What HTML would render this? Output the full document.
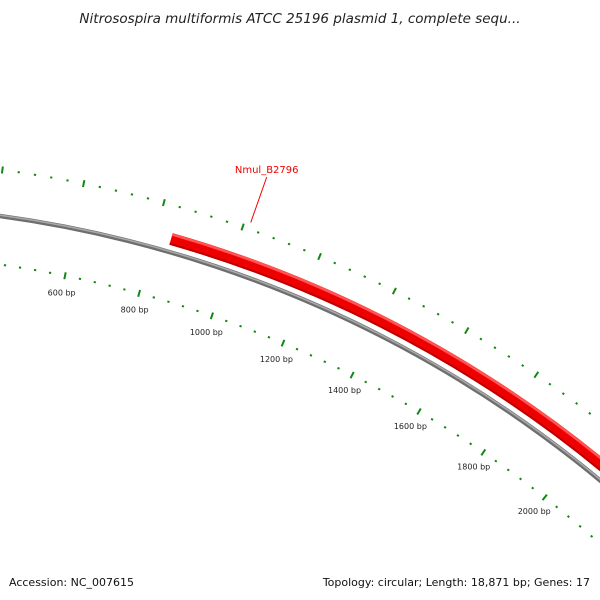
<!DOCTYPE html>
<html><head><meta charset="utf-8"><style>
html,body{margin:0;padding:0;background:#fff;width:600px;height:600px;overflow:hidden}
svg{display:block;overflow:hidden;font-family:"DejaVu Sans","Liberation Sans",sans-serif}
</style></head><body>
<svg id="map" width="600" height="600" viewBox="0 0 600 600">
<defs><clipPath id="clip"><rect x="0" y="0" width="600" height="600"/></clipPath></defs>
<text x="300" y="23" text-anchor="middle" font-size="13.5" font-style="italic" fill="#222">Nitrosospira multiformis ATCC 25196 plasmid 1, complete sequ...</text>
<g id="plot" clip-path="url(#clip)"></g>
<text x="9" y="586" font-size="11" fill="#111">Accession: NC_007615</text>
<text x="590" y="586" font-size="11" fill="#111" text-anchor="end">Topology: circular; Length: 18,871 bp; Genes: 17</text>
</svg>
<script>
const seqLength = 18871;
const tickStep = 40;
const majorStep = 200;
const featureNames = ["Nmul_B2796"];
const featureStarts = [841];
const featureEnds = [2700];
const featureLabelAt = [1015];
const labelledTicks = [600, 800, 1000, 1200, 1400, 1600, 1800, 2000];

const NS = "http://www.w3.org/2000/svg";
const cx = -162, cy = 1397;
const R_BACK = 1192, R_FEAT = 1205, R_OUT = 1238, R_IN = 1144, R_LAB = 1127;
const plot = document.getElementById('plot');
function ang(bp){ return bp / seqLength * 2 * Math.PI; }
function pt(bp, r){ const a = ang(bp); return [cx + r*Math.sin(a), cy - r*Math.cos(a)]; }
function mk(tag, attrs){ const e = document.createElementNS(NS, tag); for (const k in attrs) e.setAttribute(k, attrs[k]); plot.appendChild(e); return e; }
function arcPath(b0, b1, r){ const p0 = pt(b0, r), p1 = pt(b1, r); const large = (b1-b0)/seqLength > 0.5 ? 1 : 0; return `M${p0[0]},${p0[1]} A${r},${r} 0 ${large} 1 ${p1[0]},${p1[1]}`; }

let c = mk('path', {d: arcPath(0, 4000, R_BACK), fill: 'none', stroke: '#6e6e6e', 'stroke-width': 4.5});


c = mk('path', {d: arcPath(0, 4000, R_BACK + 0.8), fill: 'none', stroke: '#a8a8a8', 'stroke-width': 1.6});



function drawRing(r, name){
  for (let bp = 0; bp < seqLength; bp += tickStep){
    const p = pt(bp, r);
    if (p[0] < -10 || p[0] > 610 || p[1] < -10 || p[1] > 610) continue;
    const major = bp % majorStep === 0;
    const h = major ? 3.5 : 1;
    const a = pt(bp, r - h), b = pt(bp, r + h);
    const t = mk('line', {x1: a[0], y1: a[1], x2: b[0], y2: b[1], stroke: '#118811', 'stroke-width': major ? 2 : 2.2});
    
    
  }
}
drawRing(R_OUT, 'outer-ring');
drawRing(R_IN, 'inner-ring');

labelledTicks.forEach(bp => {
  const p = pt(bp, R_LAB);
  const t = mk('text', {x: p[0], y: p[1] + 3, 'text-anchor': 'middle', 'font-size': 8, fill: '#222'});
  t.textContent = bp + ' bp';
  
  
});

featureNames.forEach((n, i) => {
  let e = mk('path', {d: arcPath(featureStarts[i], featureEnds[i], R_FEAT), fill: 'none', stroke: '#ee0000', 'stroke-width': 12});
  
  
  e = mk('path', {d: arcPath(featureStarts[i], featureEnds[i], R_FEAT + 4.5), fill: 'none', stroke: '#ff5555', 'stroke-width': 2.5});
  
  
  e = mk('path', {d: arcPath(featureStarts[i], featureEnds[i], R_FEAT - 5), fill: 'none', stroke: '#c00000', 'stroke-width': 2});
  
  
  const a = pt(featureLabelAt[i], R_FEAT + 40), b = pt(featureLabelAt[i], R_FEAT + 88);
  e = mk('line', {x1: a[0], y1: a[1], x2: b[0], y2: b[1], stroke: '#ee0000', 'stroke-width': 1});
  
  
  e = mk('text', {x: b[0], y: b[1] - 4, 'text-anchor': 'middle', 'font-size': 10, fill: '#ee0000'});
  e.textContent = n;
  
  
});
</script>
</body></html>
